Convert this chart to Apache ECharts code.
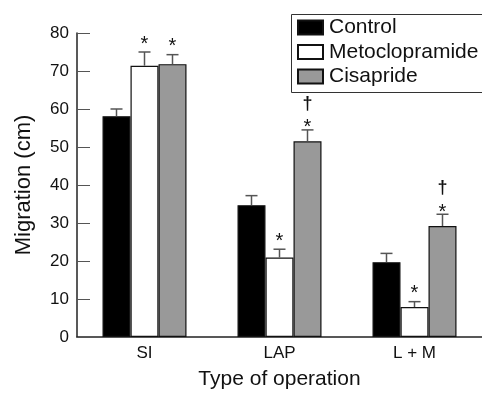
<!DOCTYPE html>
<html>
<head>
<meta charset="utf-8">
<script src="https://cdn.jsdelivr.net/npm/echarts@6/dist/echarts.min.js"></script>
<style>
html, body { margin: 0; padding: 0; background: #fff; }
#chart { width: 482px; height: 395px; }
</style>
</head>
<body>
<div id="chart"></div>
<script>
// categories
var categories = ['SI', 'LAP', 'L + M'];
// means (cm)
var control = [58.1, 34.7, 19.7];
var metoclopramide = [71.4, 20.9, 7.9];
var cisapride = [71.8, 51.5, 29.2];
// SEM (upper error bar)
var controlErr = [1.9, 2.5, 2.3];
var metoclopramideErr = [3.6, 2.2, 1.4];
var cisaprideErr = [2.5, 3.0, 3.1];
// significance marks
var controlStar = [false, false, false];
var metoclopramideStar = [true, true, true];
var cisaprideStar = [true, true, true];
var cisaprideDagger = [false, true, true];
// y ticks
var yMin = 0, yMax = 80, yStep = 10;

var FONT = '"Liberation Sans", Arial, Helvetica, sans-serif';
var BAR_W = 28;

var seriesDefs = [
    { name: 'Control', data: control, err: controlErr, star: controlStar, dagger: [false, false, false], color: '#000' },
    { name: 'Metoclopramide', data: metoclopramide, err: metoclopramideErr, star: metoclopramideStar, dagger: [false, false, false], color: '#fff' },
    { name: 'Cisapride', data: cisapride, err: cisaprideErr, star: cisaprideStar, dagger: cisaprideDagger, color: '#999' }
];

// error bar data: [catIdx, mean, sem, seriesIdx, star, dagger]
var errData = [];
seriesDefs.forEach(function (s, si) {
    for (var i = 0; i < categories.length; i++) {
        errData.push([i, s.data[i], s.err[i], si, s.star[i] ? 1 : 0, s.dagger[i] ? 1 : 0]);
    }
});

function renderErr(params, api) {
    var ci = api.value(0);
    var si = api.value(3);
    var base = api.coord([ci, api.value(1)]);
    var top = api.coord([ci, api.value(1) + api.value(2)]);
    var x = base[0] + (si - 1) * BAR_W;
    var lineStyle = { stroke: '#555', lineWidth: 1.5 };
    var children = [
        { type: 'line', shape: { x1: x, y1: base[1], x2: x, y2: top[1] }, style: lineStyle },
        { type: 'line', shape: { x1: x - 6, y1: top[1], x2: x + 6, y2: top[1] }, style: lineStyle }
    ];
    var hasDagger = api.value(5) === 1;
    if (api.value(4) === 1) {
        children.push({
            type: 'text',
            style: { text: '*', x: x, y: top[1] - (hasDagger ? 2 : 8), align: 'center', verticalAlign: 'middle',
                     font: '20px ' + FONT, fill: '#111' }
        });
    }
    if (hasDagger) {
        children.push({
            type: 'text',
            style: { text: '\u2020', x: x, y: top[1] - 26, align: 'center', verticalAlign: 'middle',
                     font: 'bold 18px ' + FONT, fill: '#111' }
        });
    }
    return { type: 'group', children: children };
}

var series = seriesDefs.map(function (s) {
    return {
        name: s.name,
        type: 'bar',
        barWidth: BAR_W,
        barGap: '0%',
        itemStyle: { color: s.color, borderColor: '#111', borderWidth: 1.2 },
        data: s.data
    };
});
series.push({
    type: 'custom',
    renderItem: renderErr,
    data: errData,
    z: 5,
    clip: false,
    silent: true
});

var chart = echarts.init(document.getElementById('chart'));
chart.setOption({
    animation: false,
    textStyle: { fontFamily: FONT, color: '#111' },
    // legend frame runs off the right edge, as in the original
    graphic: [{
        type: 'rect',
        left: 289,
        top: 12,
        shape: { width: 240, height: 78 },
        style: { fill: 'none', stroke: '#333', lineWidth: 1 },
        silent: true
    }],
    legend: {
        data: ['Control', 'Metoclopramide', 'Cisapride'],
        orient: 'vertical',
        left: 289,
        top: 12,
        padding: [5, 5, 6, 8],
        itemWidth: 25,
        itemHeight: 14,
        itemGap: 3.5,
        icon: 'rect',
        textStyle: { fontSize: 21, lineHeight: 20, color: '#111', fontFamily: FONT, padding: [0, 0, 0, 1] }
    },
    grid: { left: 77, top: 33, width: 411, height: 311, containLabel: false },
    xAxis: {
        type: 'category',
        data: categories,
        name: 'Type of operation',
        nameLocation: 'middle',
        nameGap: 32,
        nameTextStyle: { fontSize: 21, color: '#111', fontFamily: FONT },
        axisLine: { lineStyle: { color: '#222', width: 1.5 } },
        axisTick: { show: false },
        axisLabel: { fontSize: 17, color: '#111', margin: 8, fontFamily: FONT }
    },
    yAxis: {
        type: 'value',
        min: yMin,
        max: yMax,
        interval: yStep,
        name: 'Migration (cm)',
        nameLocation: 'middle',
        nameGap: 42,
        nameTextStyle: { fontSize: 22, color: '#111', fontFamily: FONT },
        axisLine: { show: true, lineStyle: { color: '#222', width: 1.5 } },
        axisTick: { show: true, inside: true, length: 13, lineStyle: { color: '#555', width: 1 } },
        axisLabel: { fontSize: 17, color: '#111', margin: 8, fontFamily: FONT },
        splitLine: { show: false }
    },
    series: series
});
</script>
</body>
</html>
